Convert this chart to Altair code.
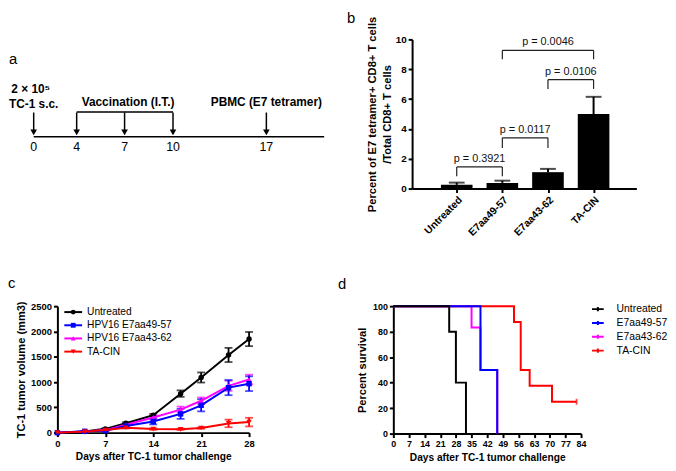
import json
import altair as alt
import pandas as pd

FONT = "Liberation Sans"

# ---------------- (a) schedule ----------------
a_days = [0, 4, 7, 10, 17]
a_day_labels = ["0", "4", "7", "10", "17"]
a_vacc_days = [4, 7, 10]
a_axis_end = 21
a_scale_domain = [0, 4, 7, 10, 17, 21]
a_scale_range = [-24, 19.5, 68, 117, 211.5, 270]
a_inoc_dose = "2 × 10⁵"
a_inoc_text = "TC-1 s.c."
a_vacc_text = "Vaccination (I.T.)"
a_pbmc_text = "PBMC (E7 tetramer)"

# ---------------- (b) tetramer bars ----------------
b_groups = ["Untreated", "E7aa49-57", "E7aa43-62", "TA-CIN"]
b_means = [0.25, 0.38, 1.1, 5.0]
b_sems = [0.15, 0.15, 0.22, 1.15]
b_cmp_left = [0, 1, 2, 1]
b_cmp_right = [1, 2, 3, 3]
b_cmp_top = [1.45, 3.4, 7.3, 9.27]
b_cmp_leg = [0.82, 2.72, 6.68, 8.67]
b_cmp_p = ["p = 0.3921", "p = 0.0117", "p = 0.0106", "p = 0.0046"]

# ---------------- (c) tumor volume ----------------
c_days = [0, 4, 7, 10, 14, 18, 21, 25, 28]
c_series = ["Untreated", "HPV16 E7aa49-57", "HPV16 E7aa43-62", "TA-CIN"]
c_untreated = [0, 22, 75, 185, 345, 770, 1090, 1535, 1850]
c_untreated_err = [0, 8, 12, 20, 25, 65, 100, 140, 140]
c_e49 = [0, 26, 39, 130, 220, 370, 540, 890, 967]
c_e49_err = [0, 8, 10, 20, 58, 100, 120, 150, 145]
c_e43 = [0, 24, 50, 155, 300, 455, 630, 925, 1050]
c_e43_err = [0, 8, 10, 20, 40, 60, 65, 100, 95]
c_tacin = [0, 20, 52, 97, 71, 65, 91, 182, 208]
c_tacin_err = [0, 8, 10, 15, 15, 12, 15, 75, 85]
c_colors = ["#000000", "#0000ff", "#ff00ff", "#ff0000"]
c_shapes = ["circle", "square", "triangle-up", "triangle-down"]

# ---------------- (d) survival ----------------
d_series = ["Untreated", "E7aa49-57", "E7aa43-62", "TA-CIN"]
d_untreated_day = [0, 25, 28, 32.5]
d_untreated_pct = [100, 80, 40, 0]
d_e49_day = [0, 39, 46.5]
d_e49_pct = [100, 50, 0]
d_e43_day = [0, 35, 39, 46.5]
d_e43_pct = [100, 83.3, 50, 0]
d_tacin_day = [0, 54, 57, 61, 71, 82]
d_tacin_pct = [100, 87.5, 50, 37.5, 25, 25]
d_colors = c_colors

NO_FRAME = alt.ViewBackground(stroke=None, fill=None)


def axis(**kw):
    base = dict(domainColor="black", domainWidth=2, tickColor="black", tickWidth=2,
                tickSize=4, labelColor="black", labelFont=FONT, labelFontWeight="bold",
                labelPadding=2, titleColor="black", titleFont=FONT, titleFontWeight="bold",
                grid=False, labelFlush=False, labelOverlap=False)
    base.update(kw)
    return alt.Axis(**base)


def letter(ch, x, y):
    return alt.Chart(pd.DataFrame({"t": [ch]})).mark_text(
        align="left", baseline="alphabetic", fontSize=15, font=FONT, color="black"
    ).encode(text="t:N", x=alt.value(x), y=alt.value(y))


# =============== panel a ===============
a_df = pd.DataFrame({"day": a_days, "label": a_day_labels})
a_x_scale = alt.Scale(domain=a_scale_domain, range=a_scale_range, nice=False, zero=False)


def ax(field):
    return alt.X(f"{field}:Q", scale=a_x_scale, axis=None)


a_line = alt.Chart(pd.DataFrame({"start": [a_days[0]], "end": [a_axis_end]})).mark_rule(
    color="black", strokeWidth=1.6).encode(x=ax("start"), x2="end:Q", y=alt.value(98.5))
a_bracket = alt.Chart(pd.DataFrame({"start": [min(a_vacc_days)], "end": [max(a_vacc_days)]})).mark_rule(
    color="black", strokeWidth=1.5).encode(x=ax("start"), x2="end:Q", y=alt.value(73.5))
a_shafts = alt.Chart(a_df).mark_rule(color="black", strokeWidth=1.5).encode(
    x=ax("day"), y=alt.value(74), y2=alt.value(92))
a_heads = alt.Chart(a_df).mark_point(shape="triangle-down", filled=True, color="black",
                                     size=45, opacity=1).encode(x=ax("day"), y=alt.value(94))
a_ticks = alt.Chart(a_df).mark_text(fontSize=12.5, font=FONT, color="black",
                                    baseline="alphabetic").encode(
    x=ax("day"), text="label:N", y=alt.value(113))


def a_text(txt, day, y, dx=0):
    return alt.Chart(pd.DataFrame({"day": [day], "t": [txt]})).mark_text(
        fontSize=12, font=FONT, fontWeight="bold", color="black", baseline="alphabetic", dx=dx
    ).encode(x=ax("day"), y=alt.value(y), text="t:N")


panel_a = alt.layer(
    a_line, a_bracket, a_shafts, a_heads, a_ticks,
    a_text(a_inoc_dose, a_days[0], 54, dx=-3),
    a_text(a_inoc_text, a_days[0], 69),
    a_text(a_vacc_text, a_vacc_days[1], 67, dx=3.5),
    a_text(a_pbmc_text, a_days[-1], 67),
    letter("a", -49, 25),
).properties(width=339, height=151, view=NO_FRAME)

# =============== panel b ===============
b_df = pd.DataFrame({"idx": list(range(len(b_groups))), "group": b_groups,
                     "mean": b_means, "sem": b_sems})
b_df["hi"] = b_df["mean"] + b_df["sem"]
br = pd.DataFrame({"left": b_cmp_left, "right": b_cmp_right, "top": b_cmp_top,
                   "leg": b_cmp_leg, "p": b_cmp_p})
br["mid"] = (br["left"] + br["right"]) / 2
b_legs = pd.concat([
    br[["left", "top", "leg"]].rename(columns={"left": "idx"}),
    br[["right", "top", "leg"]].rename(columns={"right": "idx"}),
])

b_x_scale = alt.Scale(domain=[-0.87, 3.83], nice=False, zero=False)
b_y_scale = alt.Scale(domain=[0, 10], nice=False)
b_xaxis = axis(values=list(range(len(b_groups))),
               labelExpr=f"{json.dumps(b_groups)}[datum.value]",
               labelAngle=-45, labelFontSize=10.5, title=None)
b_yaxis = axis(values=[0, 2, 4, 6, 8, 10], labelFontSize=10,
               title=["Percent of E7 tetramer+ CD8+ T cells", "/Total CD8+ T cells"],
               titleFontSize=11.3, titlePadding=3, titleLineHeight=15)


def bx(field):
    return alt.X(f"{field}:Q", scale=b_x_scale, axis=b_xaxis)


def by(field):
    return alt.Y(f"{field}:Q", scale=b_y_scale, axis=b_yaxis)


b_bars = alt.Chart(b_df).mark_bar(size=32, color="black", orient="vertical").encode(
    x=bx("idx"), y=by("mean"))
b_err = alt.Chart(b_df).mark_rule(color="black", strokeWidth=2).encode(
    x=bx("idx"), y=by("mean"), y2="hi:Q")
b_cap = alt.Chart(b_df).mark_tick(color="black", orient="horizontal", size=16,
                                  thickness=2).encode(x=bx("idx"), y=by("hi"))
b_br_h = alt.Chart(br).mark_rule(color="#222222", strokeWidth=1.2).encode(
    x=bx("left"), x2="right:Q", y=by("top"))
b_br_v = alt.Chart(b_legs).mark_rule(color="#222222", strokeWidth=1.2).encode(
    x=bx("idx"), y=by("top"), y2="leg:Q")
b_br_t = alt.Chart(br).mark_text(fontSize=11, font=FONT, color="#111111",
                                 baseline="alphabetic", dy=-5).encode(
    x=bx("mid"), y=by("top"), text="p:N")

panel_b = alt.layer(b_bars, b_err, b_cap, b_br_h, b_br_v, b_br_t,
                    letter("b", -66, -17)).properties(width=227, height=151, view=NO_FRAME)

# =============== panel c ===============
rows = []
for s, vals, errs in zip(c_series, [c_untreated, c_e49, c_e43, c_tacin],
                         [c_untreated_err, c_e49_err, c_e43_err, c_tacin_err]):
    for d, v, e in zip(c_days, vals, errs):
        rows.append({"day": d, "vol": v, "lo": v - e, "hi": v + e, "err": e, "series_c": s})
c_df = pd.DataFrame(rows)

c_xscale = alt.Scale(domain=[0, 28], nice=False)
c_yscale = alt.Scale(domain=[0, 2500], nice=False)
c_xaxis = axis(values=[0, 7, 14, 21, 28], labelFontSize=9.5,
               title="Days after TC-1 tumor challenge", titleFontSize=10.3, titlePadding=4)
c_yaxis = axis(values=[0, 500, 1000, 1500, 2000, 2500], labelFontSize=9.5, format="d",
               title="TC-1 tumor volume (mm3)", titleFontSize=11.2, titlePadding=4)
c_color_scale = alt.Scale(domain=c_series, range=c_colors)


def cx():
    return alt.X("day:Q", scale=c_xscale, axis=c_xaxis)


def cy(field):
    return alt.Y(f"{field}:Q", scale=c_yscale, axis=c_yaxis)


def ccol():
    return alt.Color("series_c:N", scale=c_color_scale, legend=None)


c_base = alt.Chart(c_df)
c_order = [0, 2, 1, 3]
c_layers = []
for i in c_order:
    s = c_series[i]
    sub = c_base.transform_filter(alt.datum.series_c == s).transform_filter("datum.err > 0")
    c_layers.append(sub.mark_rule(strokeWidth=1.8).encode(
        x=cx(), y=cy("lo"), y2="hi:Q", color=ccol()))
    c_layers.append(sub.mark_tick(orient="horizontal", size=8, thickness=1.8).encode(
        x=cx(), y=cy("hi"), color=ccol()))
    c_layers.append(sub.mark_tick(orient="horizontal", size=8, thickness=1.8).encode(
        x=cx(), y=cy("lo"), color=ccol()))
for i in c_order:
    s = c_series[i]
    sub = c_base.transform_filter(alt.datum.series_c == s)
    c_layers.append(sub.mark_line(strokeWidth=2).encode(x=cx(), y=cy("vol"), color=ccol()))
    c_layers.append(sub.mark_point(shape=c_shapes[i], filled=True, size=30, opacity=1).encode(
        x=cx(), y=cy("vol"), color=ccol()))
c_layers.append(letter("c", -50, -18))
c_main = alt.layer(*c_layers)

# legend of (c), drawn with its own (hidden) scales
c_leg_df = pd.DataFrame({"series_c": c_series, "row": list(range(len(c_series))),
                         "x0": 0.0, "x1": 1.0, "xm": 0.5})
c_leg_x = alt.Scale(domain=[0, 1], range=[7, 25])
c_leg_y = alt.Scale(domain=[0, 3], range=[6, 46])
c_leg_base = alt.Chart(c_leg_df)
c_leg_line = c_leg_base.mark_rule(strokeWidth=2).encode(
    x=alt.X("x0:Q", scale=c_leg_x, axis=None), x2="x1:Q",
    y=alt.Y("row:Q", scale=c_leg_y, axis=None), color=ccol())
c_leg_pt = c_leg_base.mark_point(filled=True, size=24, opacity=1).encode(
    x=alt.X("xm:Q", scale=c_leg_x, axis=None),
    y=alt.Y("row:Q", scale=c_leg_y, axis=None), color=ccol(),
    shape=alt.Shape("series_c:N", scale=alt.Scale(domain=c_series, range=c_shapes), legend=None))
c_leg_txt = c_leg_base.mark_text(align="left", baseline="middle", dx=5, fontSize=10.3,
                                 font=FONT, color="black").encode(
    x=alt.X("x1:Q", scale=c_leg_x, axis=None),
    y=alt.Y("row:Q", scale=c_leg_y, axis=None), text="series_c:N")
c_legend = alt.layer(c_leg_line, c_leg_pt, c_leg_txt)

panel_c = alt.layer(c_main, c_legend).resolve_scale(x="independent", y="independent").properties(
    width=194, height=128, view=NO_FRAME)

# =============== panel d ===============
drows = []
for s, days, pcts in zip(d_series, [d_untreated_day, d_e49_day, d_e43_day, d_tacin_day],
                         [d_untreated_pct, d_e49_pct, d_e43_pct, d_tacin_pct]):
    for d, p in zip(days, pcts):
        drows.append({"day_d": d, "pct": p, "series_d": s})
d_df = pd.DataFrame(drows)
d_censor = pd.DataFrame({"day_d": [d_tacin_day[-1]], "pct": [d_tacin_pct[-1]],
                         "series_d": [d_series[-1]]})

d_xscale = alt.Scale(domain=[0, 84], nice=False)
d_yscale = alt.Scale(domain=[0, 100], nice=False)
d_xaxis = axis(values=list(range(0, 85, 7)), labelFontSize=9,
               title="Days after TC-1 tumor challenge", titleFontSize=10.3, titlePadding=4)
d_yaxis = axis(values=[0, 20, 40, 60, 80, 100], labelFontSize=9,
               title="Percent survival", titleFontSize=11.2, titlePadding=5)
d_color_scale = alt.Scale(domain=d_series, range=d_colors)
d_leg = alt.Legend(orient="none", legendX=200, legendY=-4, title=None, labelFont=FONT,
                   labelFontSize=10.5, labelColor="black", symbolSize=140, labelOffset=12,
                   rowPadding=0, padding=0, symbolStrokeWidth=2,
                   symbolType="M-1,0H1M0,-0.35V0.35")

d_layers = []
for k, i in enumerate([3, 2, 1, 0]):
    s = d_series[i]
    d_layers.append(alt.Chart(d_df).transform_filter(alt.datum.series_d == s).mark_line(
        interpolate="step-after", strokeWidth=2).encode(
        x=alt.X("day_d:Q", scale=d_xscale, axis=d_xaxis),
        y=alt.Y("pct:Q", scale=d_yscale, axis=d_yaxis),
        color=alt.Color("series_d:N", scale=d_color_scale, legend=d_leg if k == 0 else None)))
d_layers.append(alt.Chart(d_censor).mark_tick(orient="vertical", size=6, thickness=1.8).encode(
    x=alt.X("day_d:Q", scale=d_xscale, axis=d_xaxis),
    y=alt.Y("pct:Q", scale=d_yscale, axis=d_yaxis),
    color=alt.Color("series_d:N", scale=d_color_scale, legend=None)))
d_layers.append(letter("d", -56, -17))
panel_d = alt.layer(*d_layers).properties(width=190, height=129, view=NO_FRAME)

row1 = alt.hconcat(panel_a, panel_b, spacing=20, bounds="flush")
row2 = alt.hconcat(panel_c, panel_d, spacing=146, bounds="flush").resolve_scale(
    color="independent").resolve_legend(color="independent")
chart = alt.vconcat(row1, row2, spacing=39).properties(
    padding=0).configure_view(stroke=None).configure(font=FONT)

chart.save("out.html", embed_options={"renderer": "svg", "actions": False})
